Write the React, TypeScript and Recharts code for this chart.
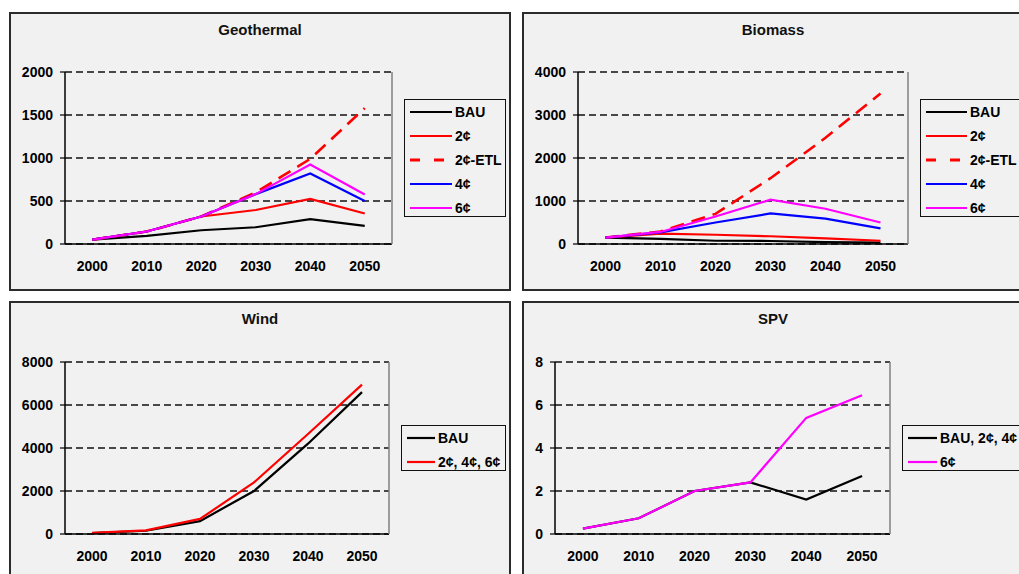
import { LineChart, Line, XAxis, YAxis, CartesianGrid } from "recharts";

const years = [2000, 2010, 2020, 2030, 2040, 2050];
const yearEdges = [1995, 2005, 2015, 2025, 2035, 2045, 2055];

// Geothermal
const geoBau = [50, 95, 160, 195, 290, 210];
const geo2c = [50, 145, 320, 395, 525, 355];
const geo2cEtl = [50, 145, 320, 600, 990, 1580];
const geo4c = [50, 145, 320, 580, 820, 500];
const geo6c = [50, 145, 320, 580, 925, 575];
const geoTicks = [0, 500, 1000, 1500, 2000];

// Biomass
const bioBau = [150, 120, 75, 70, 45, 30];
const bio2c = [150, 240, 215, 180, 130, 75];
const bio2cEtl = [150, 290, 700, 1530, 2470, 3500];
const bio4c = [150, 270, 500, 710, 590, 365];
const bio6c = [150, 280, 640, 1030, 820, 500];
const bioTicks = [0, 1000, 2000, 3000, 4000];

// Wind
const windBau = [40, 150, 600, 2000, 4200, 6600];
const windCents = [50, 170, 700, 2400, 4650, 6950];
const windTicks = [0, 2000, 4000, 6000, 8000];

// SPV
const spvBau = [0.25, 0.73, 2.0, 2.4, 1.6, 2.7];
const spv6c = [0.25, 0.73, 2.0, 2.4, 5.4, 6.45];
const spvTicks = [0, 2, 4, 6, 8];

const FONT = "Arial, 'Liberation Sans', sans-serif";
const BG = "#f1f1f1";
const DASH = "14 8";

type Series = { name: string; values: number[]; color: string; dashed?: boolean };

interface PanelProps {
  x: number;
  y: number;
  h: number;
  title: string;
  series: Series[];
  ticks: number[];
  plotLeft: number;
  plotRight: number;
  plotTop: number;
  plotBottom: number;
  legendX: number;
  legendY: number;
  legendW: number;
  sampleW: number;
}

function Panel(p: PanelProps) {
  const W = 502;
  const yWidth = 50;
  const data = years.map((year, i) => {
    const row: Record<string, number> = { year };
    p.series.forEach((s, j) => {
      row["s" + j] = s.values[i];
    });
    return row;
  });
  const tickStyle = { fill: "#000", fontSize: 14, fontWeight: 700, fontFamily: FONT };

  return (
    <div style={{ position: "absolute", left: p.x, top: p.y, width: W, height: p.h, background: BG }}>
      <LineChart
        width={W}
        height={p.h}
        data={data}
        style={{ fontFamily: FONT }}
        margin={{
          top: p.plotTop,
          right: W - p.plotRight - 1,
          left: p.plotLeft - yWidth,
          bottom: p.h - p.plotBottom - 31,
        }}
      >
        <CartesianGrid vertical={false} stroke="#111" strokeWidth={1.3} strokeDasharray="7 4" />
        <XAxis
          type="number"
          dataKey="year"
          domain={[1995, 2055]}
          ticks={yearEdges}
          interval={0}
          height={1}
          tick={false}
          tickSize={5}
          axisLine={{ stroke: "#000", strokeWidth: 1.5 }}
          tickLine={{ stroke: "#000", strokeWidth: 1.2 }}
        />
        <XAxis
          xAxisId="lbl"
          type="number"
          dataKey="year"
          domain={[1995, 2055]}
          ticks={years}
          interval={0}
          height={30}
          tickSize={0}
          tickMargin={16}
          axisLine={false}
          tickLine={false}
          tick={tickStyle}
        />
        <YAxis
          type="number"
          domain={[0, p.ticks[p.ticks.length - 1]]}
          ticks={p.ticks}
          interval={0}
          width={yWidth}
          tickSize={5}
          tickMargin={7}
          axisLine={{ stroke: "#000", strokeWidth: 1.5 }}
          tickLine={{ stroke: "#000", strokeWidth: 1.2 }}
          tick={tickStyle}
        />
        <YAxis
          yAxisId="frame"
          orientation="right"
          type="number"
          domain={[0, 1]}
          width={1}
          tick={false}
          tickLine={false}
          axisLine={{ stroke: "#808080", strokeWidth: 1.5 }}
        />
        {p.series.map((s, j) => (
          <Line
            key={s.name}
            type="linear"
            dataKey={"s" + j}
            name={s.name}
            stroke={s.color}
            strokeWidth={s.dashed ? 2.6 : 2.2}
            strokeDasharray={s.dashed ? DASH : undefined}
            dot={false}
            activeDot={false}
            isAnimationActive={false}
          />
        ))}
      </LineChart>

      <div
        style={{
          position: "absolute",
          left: 0,
          top: 9,
          width: W,
          textAlign: "center",
          fontFamily: FONT,
          fontWeight: 700,
          fontSize: 15,
          lineHeight: "18px",
          color: "#111",
        }}
      >
        {p.title}
      </div>

      <div
        style={{
          position: "absolute",
          left: p.legendX,
          top: p.legendY,
          width: p.legendW,
          height: p.series.length * 24 - 2,
          border: "1.5px solid #111",
          boxSizing: "border-box",
          background: BG,
          fontFamily: FONT,
          fontWeight: 700,
          fontSize: 14,
          color: "#000",
          whiteSpace: "nowrap",
        }}
      >
        {p.series.map((s) => (
          <div key={s.name} style={{ height: 24, display: "flex", alignItems: "center", paddingLeft: 5 }}>
            <svg width={p.sampleW} height={6} style={{ marginRight: 3, flex: "none" }}>
              <line
                x1={0}
                y1={3}
                x2={p.sampleW}
                y2={3}
                stroke={s.color}
                strokeWidth={s.dashed ? 3 : 2.2}
                strokeDasharray={s.dashed ? "10 14" : undefined}
              />
            </svg>
            <span>{s.name}</span>
          </div>
        ))}
      </div>

      <div
        style={{
          position: "absolute",
          inset: 0,
          border: "2px solid #2b2b2b",
          boxSizing: "border-box",
          pointerEvents: "none",
        }}
      />
    </div>
  );
}

export default function App() {
  const geoSeries: Series[] = [
    { name: "BAU", values: geoBau, color: "#000000" },
    { name: "2¢", values: geo2c, color: "#ff0000" },
    { name: "2¢-ETL", values: geo2cEtl, color: "#ff0000", dashed: true },
    { name: "4¢", values: geo4c, color: "#0000ff" },
    { name: "6¢", values: geo6c, color: "#ff00ff" },
  ];
  const bioSeries: Series[] = [
    { name: "BAU", values: bioBau, color: "#000000" },
    { name: "2¢", values: bio2c, color: "#ff0000" },
    { name: "2¢-ETL", values: bio2cEtl, color: "#ff0000", dashed: true },
    { name: "4¢", values: bio4c, color: "#0000ff" },
    { name: "6¢", values: bio6c, color: "#ff00ff" },
  ];
  const windSeries: Series[] = [
    { name: "BAU", values: windBau, color: "#000000" },
    { name: "2¢, 4¢, 6¢", values: windCents, color: "#ff0000" },
  ];
  const spvSeries: Series[] = [
    { name: "BAU, 2¢, 4¢", values: spvBau, color: "#000000" },
    { name: "6¢", values: spv6c, color: "#ff00ff" },
  ];

  return (
    <div
      style={{
        position: "absolute",
        left: 0,
        top: 0,
        width: 1019,
        height: 574,
        overflow: "hidden",
        background: "#fff",
      }}
    >
      <Panel
        x={9}
        y={12}
        h={279}
        title="Geothermal"
        series={geoSeries}
        ticks={geoTicks}
        plotLeft={56}
        plotRight={383}
        plotTop={60}
        plotBottom={232}
        legendX={395}
        legendY={87}
        legendW={102}
        sampleW={42}
      />
      <Panel
        x={522}
        y={12}
        h={279}
        title="Biomass"
        series={bioSeries}
        ticks={bioTicks}
        plotLeft={56}
        plotRight={386}
        plotTop={60}
        plotBottom={232}
        legendX={398}
        legendY={87}
        legendW={102}
        sampleW={41}
      />
      <Panel
        x={9}
        y={301}
        h={290}
        title="Wind"
        series={windSeries}
        ticks={windTicks}
        plotLeft={56}
        plotRight={380}
        plotTop={61}
        plotBottom={233}
        legendX={392}
        legendY={124}
        legendW={105}
        sampleW={28}
      />
      <Panel
        x={522}
        y={301}
        h={290}
        title="SPV"
        series={spvSeries}
        ticks={spvTicks}
        plotLeft={33}
        plotRight={368}
        plotTop={61}
        plotBottom={233}
        legendX={380}
        legendY={124}
        legendW={130}
        sampleW={29}
      />
    </div>
  );
}
